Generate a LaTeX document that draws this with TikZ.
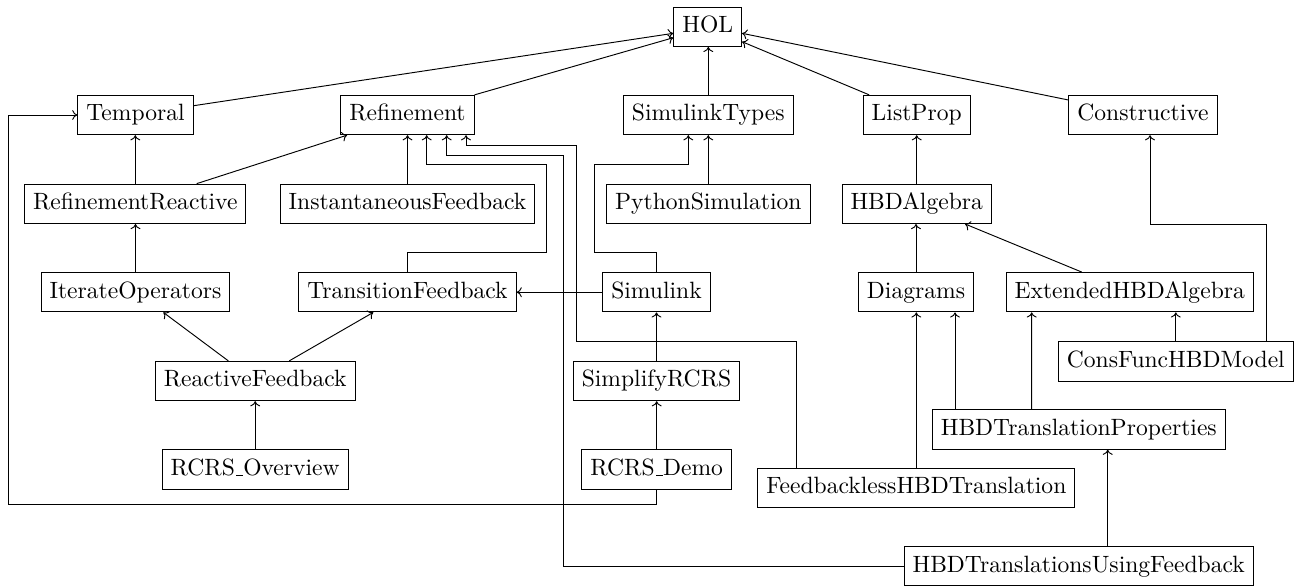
\documentclass[tikz,border=0pt]{standalone}
\usetikzlibrary{calc,arrows.meta}
\newcommand{\lowbar}{\leavevmode\kern.06em\vbox{\hrule width.3em}}
\begin{document}
\begin{tikzpicture}[x=0.4241pt,y=-0.4241pt,
  box/.style={draw, inner xsep=3.6pt, inner ysep=0pt, minimum height=16.7pt, text height=6.9pt, text depth=1.95pt},
  arr/.style={-{To[length=2.2pt,width=4.2pt]}}]
\useasboundingbox (0,0) rectangle (1295,586);
% nodes
\node[box] (HOL) at (707.7,26.7) {HOL};
\node[box] (Temporal) at (135.5,115) {Temporal};
\node[box] (Refinement) at (407.5,115) {Refinement};
\node[box] (SimulinkTypes) at (708.3,115) {SimulinkTypes};
\node[box] (ListProp) at (916.7,115) {ListProp};
\node[box] (Constructive) at (1143,115) {Constructive};
\node[box] (RR) at (135.3,203.8) {RefinementReactive};
\node[box] (IF) at (407.5,203.8) {InstantaneousFeedback};
\node[box] (PS) at (708.3,203.8) {PythonSimulation};
\node[box] (HBDA) at (916.7,203.8) {HBDAlgebra};
\node[box] (IO) at (135.5,292.2) {IterateOperators};
\node[box] (TF) at (407.5,292.2) {TransitionFeedback};
\node[box] (Simulink) at (656.5,292.2) {Simulink};
\node[box] (Diagrams) at (916,292.2) {Diagrams};
\node[box] (EHA) at (1129.7,292.2) {ExtendedHBDAlgebra};
\node[box] (RF) at (255.2,381) {ReactiveFeedback};
\node[box] (SR) at (656.5,381) {SimplifyRCRS};
\node[box] (CFHM) at (1175.8,361.3) {ConsFuncHBDModel};
\node[box] (HTP) at (1078.8,429.5) {HBDTranslationProperties};
\node[box] (RO) at (255.2,469.6) {RCRS\lowbar Overview};
\node[box] (RD) at (656.7,469.6) {RCRS\lowbar Demo};
\node[box] (FHT) at (916.3,487.8) {FeedbacklessHBDTranslation};
\node[box] (HTUF) at (1078.7,566.2) {HBDTranslationsUsingFeedback};
% edges to HOL
\draw[arr] ($(Temporal.east)+(0,-9.3)$) -- ($(HOL.west)+(0,6.6)$);
\draw[arr] (Refinement.north east) -- ($(HOL.west)+(0,11)$);
\draw[arr] (SimulinkTypes.north) -- (SimulinkTypes.north |- HOL.south);
\draw[arr] ($(ListProp.north west)+(6.4,0)$) -- ($(HOL.east)+(0,15)$);
\draw[arr] ($(Constructive.west)+(0,-15)$) -- ($(HOL.east)+(0,6.6)$);
% left column
\draw[arr] (RR.north) -- (RR.north |- Temporal.south);
\draw[arr] ($(RR.north)+(61.4,0)$) -- ($(Refinement.south west)+(6.7,0)$);
\draw[arr] (IO.north) -- (IO.north |- RR.south);
\draw[arr] ($(RF.north)+(-26.9,0)$) -- ($(IO.south)+(27.8,0)$);
\draw[arr] ($(RF.north)+(34.1,0)$) -- ($(TF.south)+(-34.2,0)$);
\draw[arr] (RO.north) -- (RO.north |- RF.south);
% refinement column
\draw[arr] (IF.north) -- (IF.north |- Refinement.south);
\draw[arr] (TF.north) -- ++(0,-19.5) -- ++(139.2,0) |- ($(Refinement.south)+(19.2,29.7)$) -- ($(Refinement.south)+(19.2,0)$);
\draw[arr] (Simulink.west) -- (TF.east);
% simulink column
\draw[arr] (Simulink.north) -- ++(0,-19.5) -- ++(-62.4,0) |- ($(SimulinkTypes.south)+(-20,29.7)$) -- ($(SimulinkTypes.south)+(-20,0)$);
\draw[arr] (PS.north) -- (PS.north |- SimulinkTypes.south);
\draw[arr] (SR.north) -- (SR.north |- Simulink.south);
\draw[arr] (RD.north) -- (RD.north |- SR.south);
\draw[arr] (RD.south) -- ++(0,15) -- ++(-648.4,0) |- (Temporal.west);
% long connectors to Refinement
\draw[arr] ($(FHT.north)+(-120.3,0)$) -- ++(0,-126.6) -- ++(-220,0) |- ($(Refinement.south)+(58.5,10.7)$) -- ($(Refinement.south)+(58.5,0)$);
\draw[arr] (HTUF.west) -- ++(-340,0) |- ($(Refinement.south)+(39.2,20)$) -- ($(Refinement.south)+(39.2,0)$);
% right part
\draw[arr] (HBDA.north) -- (HBDA.north |- ListProp.south);
\draw[arr] (Diagrams.north) -- (Diagrams.north |- HBDA.south);
\draw[arr] ($(EHA.north)+(-48,0)$) -- ($(HBDA.south)+(48.3,0)$);
\draw[arr] (FHT.north) -- (FHT.north |- Diagrams.south);
\draw[arr] ($(HTP.north)+(-123.8,0)$) -- ($(Diagrams.south)+(39,0)$);
\draw[arr] ($(HTP.north)+(-47.1,0)$) -- ($(EHA.south)+(-98,0)$);
\draw[arr] (CFHM.north) -- (CFHM.north |- EHA.south);
\draw[arr] ($(CFHM.north)+(90.2,0)$) -- ++(0,-116.7) -| ($(Constructive.south)+(7,0)$);
\draw[arr] ($(HTUF.north)+(29,0)$) -- ($(HTP.south)+(28.9,0)$);
\end{tikzpicture}
\end{document}
